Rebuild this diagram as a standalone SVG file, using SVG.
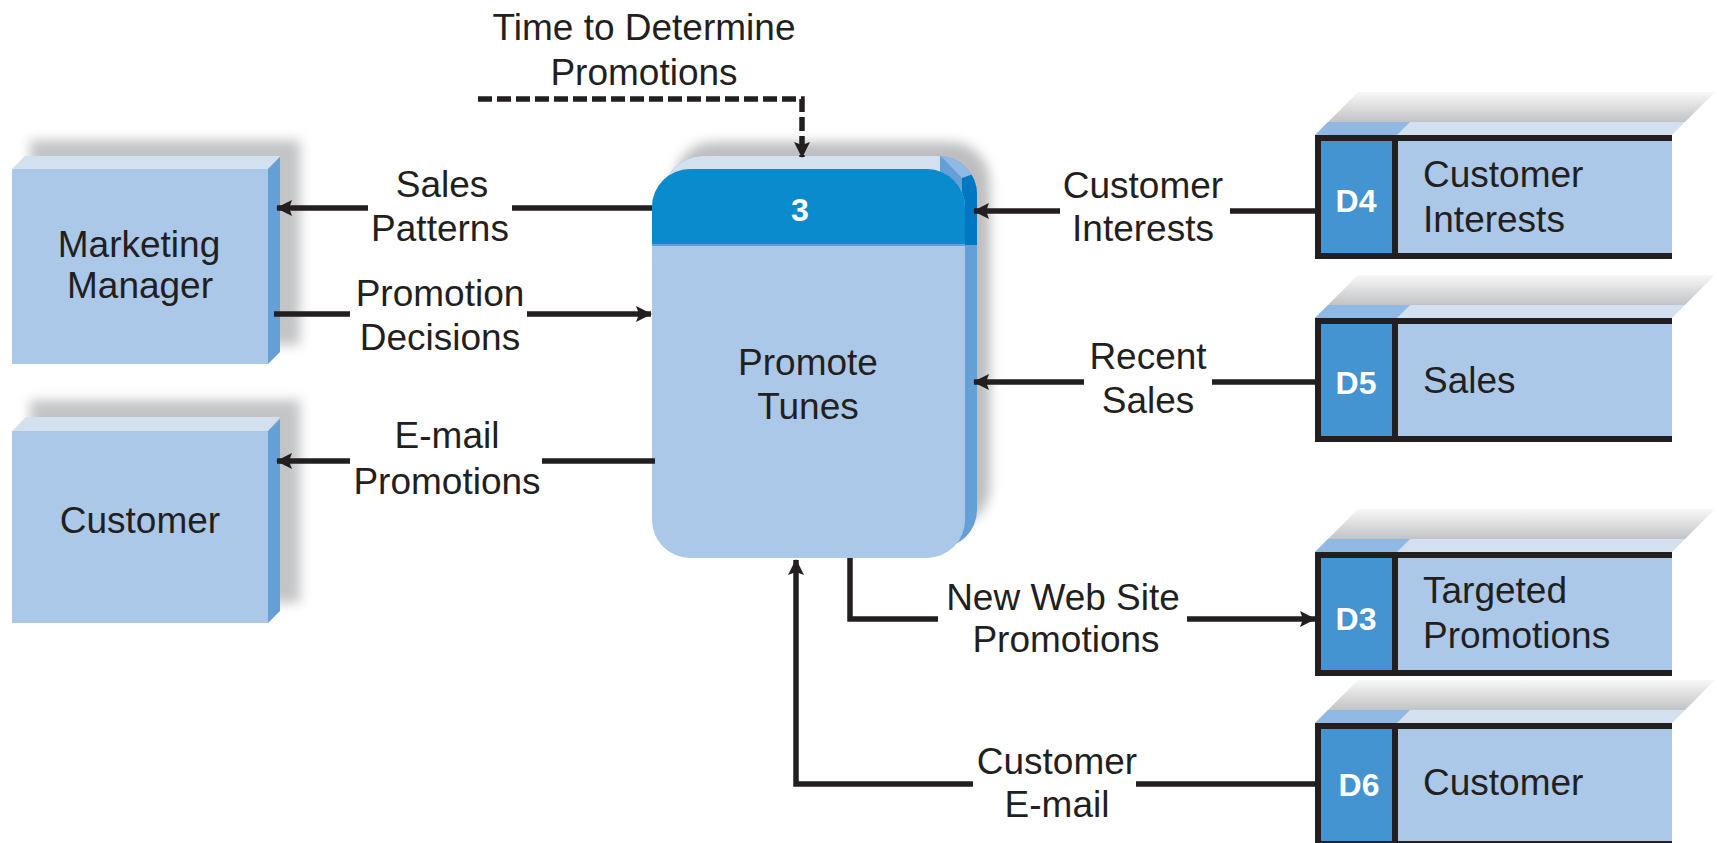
<svg xmlns="http://www.w3.org/2000/svg" width="1717" height="843" viewBox="0 0 1717 843">
<style>
.t{font-family:"Liberation Sans",Arial,sans-serif;font-size:37px;fill:#231f20;text-anchor:middle}
.ts{font-family:"Liberation Sans",Arial,sans-serif;font-size:37px;fill:#231f20}
.d{font-family:"Liberation Sans",Arial,sans-serif;font-size:32px;font-weight:bold;fill:#ffffff;text-anchor:middle}
.ln{fill:none;stroke:#231f20;stroke-width:5.5}
.front{fill:#abc8e8}
.topf{fill:#d3e0f0}
.side{fill:#64a0d6}
.dbox{fill:#4394d0}
.frame{fill:none;stroke:#231f20;stroke-width:6}
</style>
<defs>
<marker id="ah" viewBox="0 0 16 16" markerWidth="16" markerHeight="16" refX="15" refY="8" orient="auto" markerUnits="userSpaceOnUse">
<path d="M0,0 L16,8 L0,16 L3,8 z" fill="#231f20"/>
</marker>
<linearGradient id="gshade" x1="0" y1="0" x2="0" y2="1">
<stop offset="0" stop-color="#f8f8f8"/>
<stop offset="1" stop-color="#c2c3c5"/>
</linearGradient>
<filter id="blur" x="-20%" y="-20%" width="140%" height="140%">
<feGaussianBlur stdDeviation="6"/>
</filter>
<clipPath id="backclip"><rect x="664" y="156" width="313" height="392" rx="38"/></clipPath>
<clipPath id="frontclip"><rect x="652" y="169" width="313" height="389" rx="38"/></clipPath>
</defs>
<rect width="1717" height="843" fill="#ffffff"/>

<g id="marketing-manager">
<rect x="30" y="140" width="270" height="205" fill="#c3c4c6" filter="url(#blur)"/>
<polygon class="topf" points="12,169 25,156 280,156 268,169"/>
<polygon class="side" points="268,169 280,157 280,352 268,364"/>
<rect class="front" x="12" y="169" width="256" height="195"/>
<text class="t" x="139" y="257">Marketing</text>
<text class="t" x="140" y="298">Manager</text>
</g>

<g id="customer-entity">
<rect x="30" y="400" width="270" height="203" fill="#c3c4c6" filter="url(#blur)"/>
<polygon class="topf" points="12,431 26,417 280,417 268,431"/>
<polygon class="side" points="268,431 280,419 280,611 268,623"/>
<rect class="front" x="12" y="431" width="256" height="192"/>
<text class="t" x="140" y="533">Customer</text>
</g>

<g id="process-3">
<rect x="674" y="142" width="316" height="385" rx="40" fill="#bdbec0" filter="url(#blur)"/>
<g clip-path="url(#backclip)">
<rect x="660" y="150" width="330" height="400" fill="#64a0d6"/>
<rect x="660" y="150" width="280" height="30" fill="#d3e0f0"/>
<polygon points="935,150 990,150 990,205 962,178" fill="#8fb8e2"/>
<polygon points="962,178 990,168 990,245 962,245" fill="#0077c0"/>
</g>
<rect class="front" x="652" y="169" width="313" height="389" rx="38"/>
<g clip-path="url(#frontclip)">
<rect x="650" y="165" width="320" height="80" fill="#0a8bcd"/>
<rect x="650" y="244" width="320" height="2" fill="#5aa2d8"/>
</g>
<text class="d" x="800" y="221">3</text>
<text class="t" x="808" y="375">Promote</text>
<text class="t" x="808" y="419">Tunes</text>
</g>

<g id="store-d4" transform="translate(0,135)">
<polygon points="1328,-13 1358,-43 1715,-43 1685,-13" fill="url(#gshade)"/>
<polygon class="topf" points="1315,0 1328,-13 1685,-13 1672,0"/>
<polygon points="1315,0 1328,-13 1410,-13 1397,0" fill="#8fb8e2"/>
<rect class="front" x="1318" y="3" width="354" height="118"/>
<rect class="dbox" x="1318" y="3" width="77" height="118"/>
<path class="frame" d="M1672,3 H1318 V121 H1672 M1395,3 V121"/>
<text class="d" x="1356" y="77">D4</text>
<text class="ts" x="1423" y="52">Customer</text>
<text class="ts" x="1423" y="97">Interests</text>
</g>

<g id="store-d5" transform="translate(0,318)">
<polygon points="1328,-13 1358,-43 1715,-43 1685,-13" fill="url(#gshade)"/>
<polygon class="topf" points="1315,0 1328,-13 1685,-13 1672,0"/>
<polygon points="1315,0 1328,-13 1410,-13 1397,0" fill="#8fb8e2"/>
<rect class="front" x="1318" y="3" width="354" height="118"/>
<rect class="dbox" x="1318" y="3" width="77" height="118"/>
<path class="frame" d="M1672,3 H1318 V121 H1672 M1395,3 V121"/>
<text class="d" x="1356" y="76">D5</text>
<text class="ts" x="1423" y="75">Sales</text>
</g>

<g id="store-d3" transform="translate(0,552)">
<polygon points="1328,-13 1358,-43 1715,-43 1685,-13" fill="url(#gshade)"/>
<polygon class="topf" points="1315,0 1328,-13 1685,-13 1672,0"/>
<polygon points="1315,0 1328,-13 1410,-13 1397,0" fill="#8fb8e2"/>
<rect class="front" x="1318" y="3" width="354" height="118"/>
<rect class="dbox" x="1318" y="3" width="77" height="118"/>
<path class="frame" d="M1672,3 H1318 V121 H1672 M1395,3 V121"/>
<text class="d" x="1356" y="78">D3</text>
<text class="ts" x="1423" y="51">Targeted</text>
<text class="ts" x="1423" y="96">Promotions</text>
</g>

<g id="store-d6" transform="translate(0,723)">
<polygon points="1328,-13 1358,-43 1715,-43 1685,-13" fill="url(#gshade)"/>
<polygon class="topf" points="1315,0 1328,-13 1685,-13 1672,0"/>
<polygon points="1315,0 1328,-13 1410,-13 1397,0" fill="#8fb8e2"/>
<rect class="front" x="1318" y="3" width="354" height="118"/>
<rect class="dbox" x="1318" y="3" width="77" height="118"/>
<path class="frame" d="M1672,3 H1318 V121 H1672 M1395,3 V121"/>
<text class="d" x="1359" y="73">D6</text>
<text class="ts" x="1423" y="72">Customer</text>
</g>

<g id="connectors">
<path class="ln" d="M478,99 H802 V157" stroke-dasharray="14 5" marker-end="url(#ah)"/>
<path class="ln" d="M652,208 H512 M368,208 H277" marker-end="url(#ah)"/>
<path class="ln" d="M274,314 H350 M527,314 H651" marker-end="url(#ah)"/>
<path class="ln" d="M655,461 H542 M350,461 H277" marker-end="url(#ah)"/>
<path class="ln" d="M1315,211 H1230 M1060,211 H974" marker-end="url(#ah)"/>
<path class="ln" d="M1315,382 H1212 M1084,382 H974" marker-end="url(#ah)"/>
<path class="ln" d="M850,558 V619 H938 M1187,619 H1315" marker-end="url(#ah)"/>
<path class="ln" d="M1315,784 H1136 M973,784 H796 V560" marker-end="url(#ah)"/>
<text class="t" x="644" y="40">Time to Determine</text>
<text class="t" x="644" y="85">Promotions</text>
<text class="t" x="442" y="197">Sales</text>
<text class="t" x="440" y="241">Patterns</text>
<text class="t" x="440" y="306">Promotion</text>
<text class="t" x="440" y="350">Decisions</text>
<text class="t" x="447" y="448">E-mail</text>
<text class="t" x="447" y="494">Promotions</text>
<text class="t" x="1143" y="198">Customer</text>
<text class="t" x="1143" y="241">Interests</text>
<text class="t" x="1148" y="369">Recent</text>
<text class="t" x="1148" y="413">Sales</text>
<text class="t" x="1063" y="610">New Web Site</text>
<text class="t" x="1066" y="652">Promotions</text>
<text class="t" x="1057" y="774">Customer</text>
<text class="t" x="1057" y="817">E-mail</text>
</g>
</svg>
